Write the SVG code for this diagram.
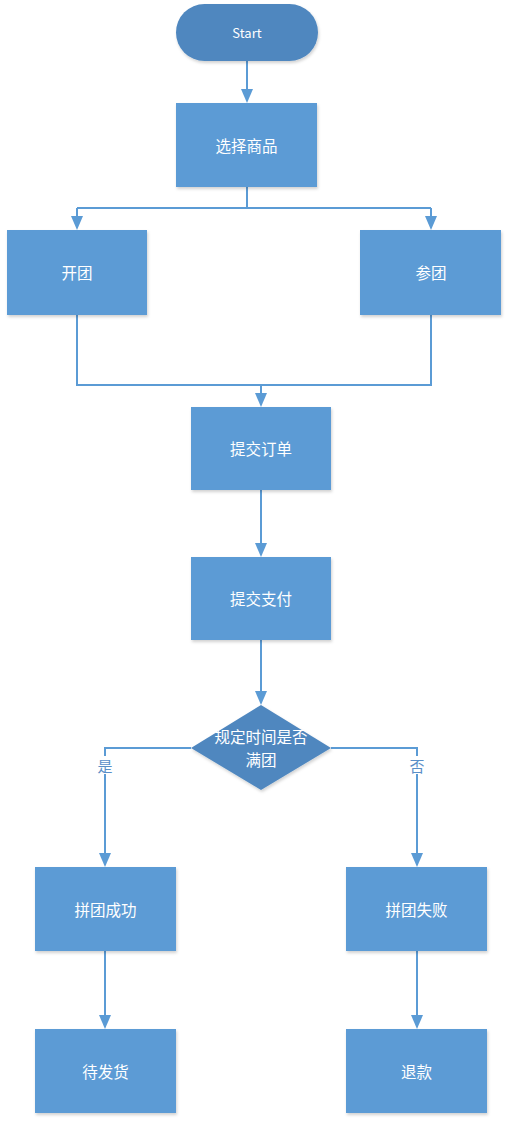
<svg xmlns="http://www.w3.org/2000/svg" width="509" height="1125" viewBox="0 0 509 1125">
<style>
.box{fill:#5b9bd5;filter:url(#sh)}
.dark{fill:#4f87bf;filter:url(#sh)}
.t{font-family:"Noto Sans CJK SC","Microsoft YaHei",sans-serif;font-size:15.5px;fill:#ffffff;text-anchor:middle;dominant-baseline:central}
.lbl{font-family:"Noto Sans CJK SC",sans-serif;font-size:15px;fill:#5b8fc8;text-anchor:middle;dominant-baseline:central}
.c{fill:none;stroke:#5b9bd5;stroke-width:2}
.ah{fill:#5b9bd5}
</style>
<defs>
<filter id="sh" x="-10%" y="-10%" width="130%" height="130%">
<feDropShadow dx="1" dy="2" stdDeviation="1.5" flood-color="#000" flood-opacity="0.18"/>
</filter>
</defs>
<g id="connectors">
<path class="c" d="M247,61 V89"/><path class="ah" d="M241,89 H253 L247,103 Z"/>
<path class="c" d="M247,187 V208 M77,208 H431 M77,208 V216 M431,208 V216"/>
<path class="ah" d="M71,216 H83 L77,230 Z M425,216 H437 L431,230 Z"/>
<path class="c" d="M77,315 V385 H431 V315 M261,385 V393"/>
<path class="ah" d="M255,393 H267 L261,407 Z"/>
<path class="c" d="M261,490 V543"/><path class="ah" d="M255,543 H267 L261,557 Z"/>
<path class="c" d="M261,640 V691"/><path class="ah" d="M255,691 H267 L261,705 Z"/>
<path class="c" d="M191,748 H105 V853"/><path class="ah" d="M99,853 H111 L105,867 Z"/>
<path class="c" d="M331,748 H417 V853"/><path class="ah" d="M411,853 H423 L417,867 Z"/>
<rect x="96" y="756" width="18" height="18" fill="#fff"/>
<text class="lbl" x="105" y="765">是</text>
<rect x="408" y="756" width="18" height="18" fill="#fff"/>
<text class="lbl" x="417" y="765">否</text>
<path class="c" d="M105,951 V1015"/><path class="ah" d="M99,1015 H111 L105,1029 Z"/>
<path class="c" d="M417,951 V1015"/><path class="ah" d="M411,1015 H423 L417,1029 Z"/>
</g>
<g id="start"><rect class="dark" x="176" y="4" width="142" height="57" rx="28.5"/><text class="t" x="247" y="32" style="font-size:13px">Start</text></g>
<g id="select"><rect class="box" x="176" y="103" width="141" height="84"/><text class="t" x="246.5" y="145">选择商品</text></g>
<g id="open"><rect class="box" x="7" y="230" width="140" height="85"/><text class="t" x="77" y="272">开团</text></g>
<g id="join"><rect class="box" x="360" y="230" width="141" height="85"/><text class="t" x="431" y="272">参团</text></g>
<g id="order"><rect class="box" x="191" y="407" width="140" height="83"/><text class="t" x="261" y="448">提交订单</text></g>
<g id="pay"><rect class="box" x="191" y="557" width="140" height="83"/><text class="t" x="261" y="598">提交支付</text></g>
<g id="decision"><path class="dark" d="M261,705 L331,748 L261,790 L191,748 Z"/><text class="t" x="261" y="736">规定时间是否</text><text class="t" x="261" y="759">满团</text></g>
<g id="success"><rect class="box" x="35" y="867" width="141" height="84"/><text class="t" x="105.5" y="909">拼团成功</text></g>
<g id="fail"><rect class="box" x="346" y="867" width="141" height="84"/><text class="t" x="416.5" y="909">拼团失败</text></g>
<g id="ship"><rect class="box" x="35" y="1029" width="141" height="84"/><text class="t" x="105.5" y="1071">待发货</text></g>
<g id="refund"><rect class="box" x="346" y="1029" width="141" height="84"/><text class="t" x="416.5" y="1071">退款</text></g>
</svg>
